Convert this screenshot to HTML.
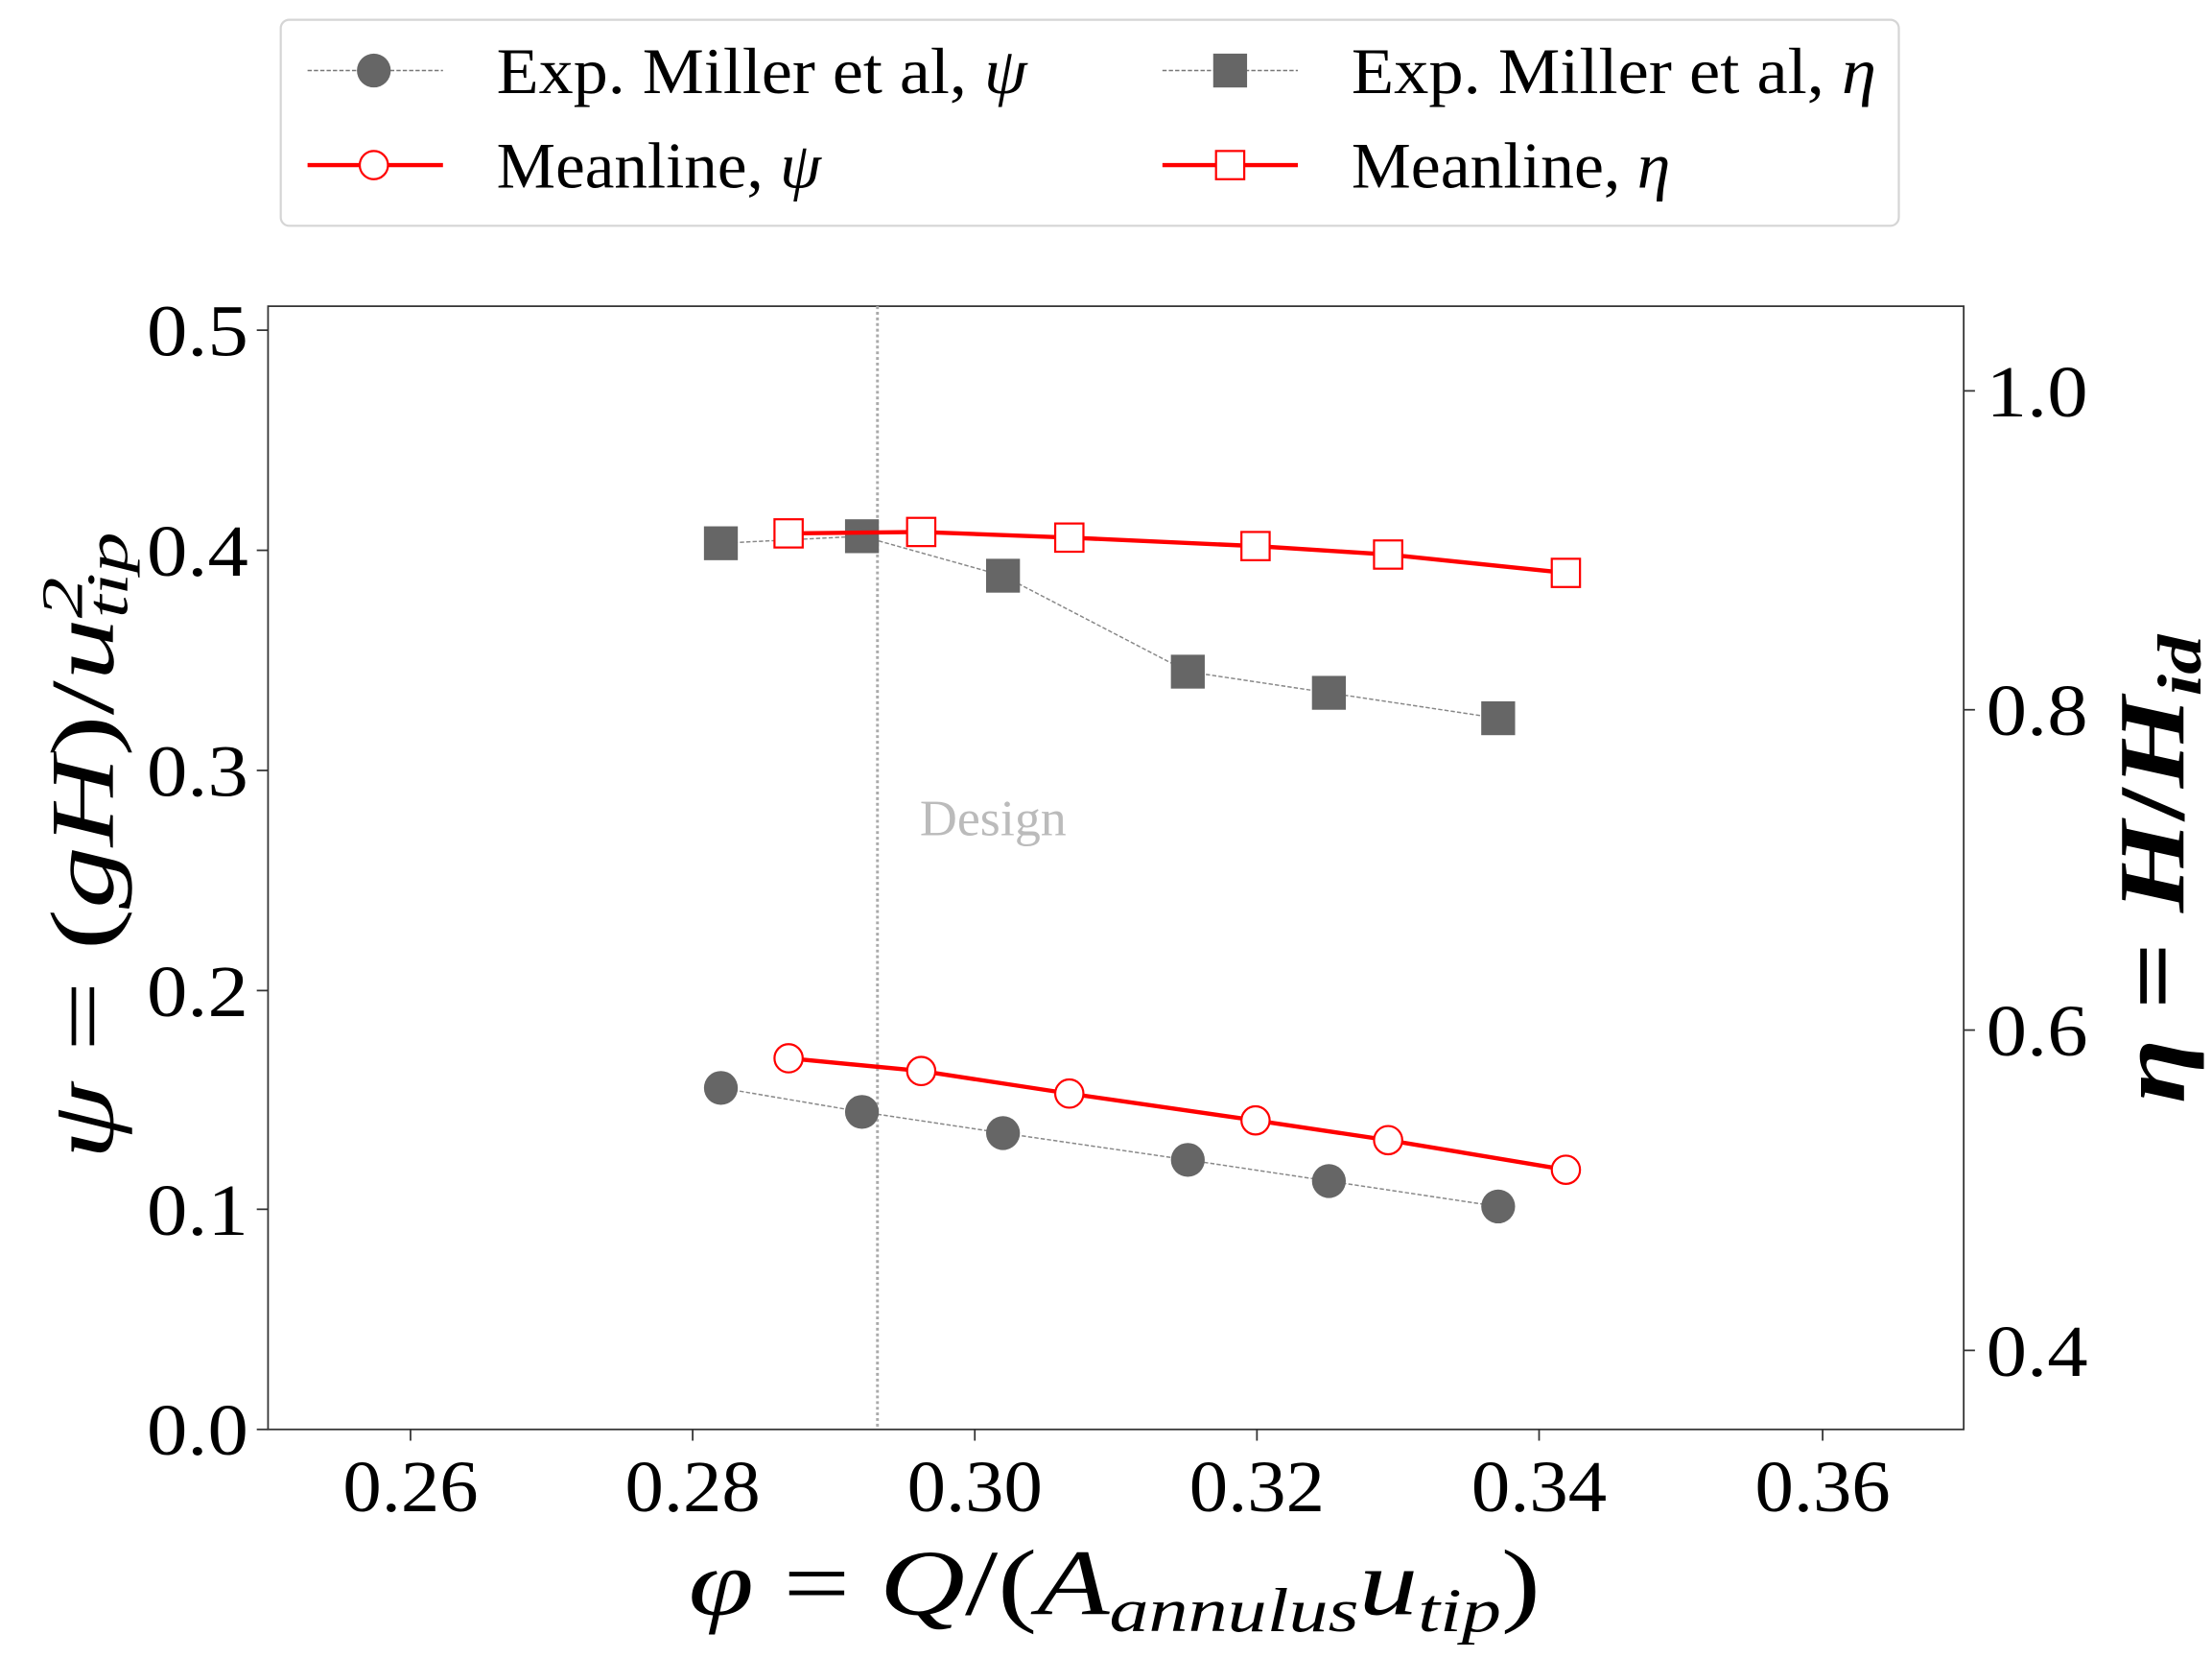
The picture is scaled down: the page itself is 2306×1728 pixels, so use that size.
<!DOCTYPE html>
<html><head><style>html,body{margin:0;padding:0;background:#fff}svg{display:block}</style></head>
<body>
<svg width="2306" height="1728" viewBox="0 0 1568 1175" xmlns="http://www.w3.org/2000/svg" font-family="Liberation Serif, serif">
<rect width="1568" height="1175" fill="#fff"/>
<!-- legend -->
<rect x="199" y="14" width="1147" height="146" rx="6" fill="#fff" stroke="#d5d5d5" stroke-width="1.5"/>
<line x1="218" y1="50" x2="314" y2="50" stroke="#777" stroke-width="1" stroke-dasharray="3,1.5"/>
<circle cx="265" cy="50" r="12" fill="#666"/>
<text x="352" y="66" font-size="46" textLength="376" lengthAdjust="spacingAndGlyphs">Exp.  Miller et al, <tspan font-style="italic">ψ</tspan></text>
<line x1="218" y1="117" x2="314" y2="117" stroke="#f00" stroke-width="3"/>
<circle cx="265" cy="117" r="10" fill="#fff" stroke="#f00" stroke-width="1.5"/>
<text x="352" y="133" font-size="46" textLength="230" lengthAdjust="spacingAndGlyphs">Meanline, <tspan font-style="italic">ψ</tspan></text>
<line x1="824" y1="50" x2="920" y2="50" stroke="#777" stroke-width="1" stroke-dasharray="3,1.5"/>
<rect x="860" y="38" width="24" height="24" fill="#666"/>
<text x="958" y="66" font-size="46" textLength="372" lengthAdjust="spacingAndGlyphs">Exp.  Miller et al, <tspan font-style="italic">η</tspan></text>
<line x1="824" y1="117" x2="920" y2="117" stroke="#f00" stroke-width="3"/>
<rect x="862" y="107" width="20" height="20" fill="#fff" stroke="#f00" stroke-width="1.5"/>
<text x="958" y="133" font-size="46" textLength="226" lengthAdjust="spacingAndGlyphs">Meanline, <tspan font-style="italic">η</tspan></text>
<!-- plot frame -->
<rect x="190" y="217" width="1202" height="796" fill="none" stroke="#333" stroke-width="1.2"/>
<g stroke="#333" stroke-width="1.2">
<line x1="182" y1="1013" x2="190" y2="1013"/><line x1="182" y1="857" x2="190" y2="857"/>
<line x1="182" y1="702" x2="190" y2="702"/><line x1="182" y1="546" x2="190" y2="546"/>
<line x1="182" y1="390" x2="190" y2="390"/><line x1="182" y1="234" x2="190" y2="234"/>
<line x1="291" y1="1013" x2="291" y2="1021"/><line x1="491" y1="1013" x2="491" y2="1021"/>
<line x1="691" y1="1013" x2="691" y2="1021"/><line x1="891" y1="1013" x2="891" y2="1021"/>
<line x1="1091" y1="1013" x2="1091" y2="1021"/><line x1="1292" y1="1013" x2="1292" y2="1021"/>
<line x1="1392" y1="277" x2="1400" y2="277"/><line x1="1392" y1="503" x2="1400" y2="503"/>
<line x1="1392" y1="730" x2="1400" y2="730"/><line x1="1392" y1="957" x2="1400" y2="957"/>
</g>
<g font-size="52">
<text x="104" y="1031" textLength="72" lengthAdjust="spacingAndGlyphs">0.0</text>
<text x="104" y="875" textLength="72" lengthAdjust="spacingAndGlyphs">0.1</text>
<text x="104" y="720" textLength="72" lengthAdjust="spacingAndGlyphs">0.2</text>
<text x="104" y="564" textLength="72" lengthAdjust="spacingAndGlyphs">0.3</text>
<text x="104" y="408" textLength="72" lengthAdjust="spacingAndGlyphs">0.4</text>
<text x="104" y="252" textLength="72" lengthAdjust="spacingAndGlyphs">0.5</text>
<text x="1408" y="295" textLength="72" lengthAdjust="spacingAndGlyphs">1.0</text>
<text x="1408" y="521" textLength="72" lengthAdjust="spacingAndGlyphs">0.8</text>
<text x="1408" y="748" textLength="72" lengthAdjust="spacingAndGlyphs">0.6</text>
<text x="1408" y="975" textLength="72" lengthAdjust="spacingAndGlyphs">0.4</text>
<text x="243" y="1071" textLength="96" lengthAdjust="spacingAndGlyphs">0.26</text>
<text x="443" y="1071" textLength="96" lengthAdjust="spacingAndGlyphs">0.28</text>
<text x="643" y="1071" textLength="96" lengthAdjust="spacingAndGlyphs">0.30</text>
<text x="843" y="1071" textLength="96" lengthAdjust="spacingAndGlyphs">0.32</text>
<text x="1043" y="1071" textLength="96" lengthAdjust="spacingAndGlyphs">0.34</text>
<text x="1244" y="1071" textLength="96" lengthAdjust="spacingAndGlyphs">0.36</text>
</g>
<!-- axis labels -->
<text x="488" y="1144" font-size="66" font-style="italic" textLength="604" lengthAdjust="spacingAndGlyphs">φ <tspan font-style="normal">= </tspan>Q<tspan font-style="normal">/(</tspan>A<tspan font-size="44" dy="12">annulus</tspan><tspan dy="-12">u</tspan><tspan font-size="44" dy="12">tip</tspan><tspan font-style="normal" dy="-12">)</tspan></text>
<text transform="translate(80,822) rotate(-90)" font-size="64" font-style="italic" textLength="445" lengthAdjust="spacingAndGlyphs">ψ <tspan font-style="normal">= (</tspan>gH<tspan font-style="normal">)/</tspan>u<tspan font-size="42" dy="-22">2</tspan><tspan font-size="42" dx="-21" dy="32">tip</tspan></text>
<text transform="translate(1548,782) rotate(-90)" font-size="66" font-style="italic" font-weight="bold" textLength="332" lengthAdjust="spacingAndGlyphs">η <tspan font-style="normal">= </tspan>H<tspan font-style="normal">/</tspan>H<tspan font-size="44" dy="12">id</tspan></text>
<!-- design line -->
<line x1="622" y1="217" x2="622" y2="1013" stroke="#aaa" stroke-width="2" stroke-dasharray="2,2"/>
<text x="652" y="592" font-size="36" fill="#bbb" textLength="104" lengthAdjust="spacingAndGlyphs">Design</text>
<!-- series -->
<polyline points="511,771 611,788 711,803 842,822 942,837 1062,855" fill="none" stroke="#888" stroke-width="1" stroke-dasharray="3,1.5"/>
<g fill="#666">
<circle cx="511" cy="771" r="12"/><circle cx="611" cy="788" r="12"/><circle cx="711" cy="803" r="12"/>
<circle cx="842" cy="822" r="12"/><circle cx="942" cy="837" r="12"/><circle cx="1062" cy="855" r="12"/>
</g>
<polyline points="511,385 611,380 711,408 842,476 942,491 1062,509" fill="none" stroke="#888" stroke-width="1" stroke-dasharray="3,1.5"/>
<g fill="#666">
<rect x="499" y="373" width="24" height="24"/><rect x="599" y="368" width="24" height="24"/><rect x="699" y="396" width="24" height="24"/>
<rect x="830" y="464" width="24" height="24"/><rect x="930" y="479" width="24" height="24"/><rect x="1050" y="497" width="24" height="24"/>
</g>
<polyline points="559,750 653,759 758,775 890,794 984,808 1110,829" fill="none" stroke="#f00" stroke-width="3"/>
<g fill="#fff" stroke="#f00" stroke-width="1.5">
<circle cx="559" cy="750" r="10"/><circle cx="653" cy="759" r="10"/><circle cx="758" cy="775" r="10"/>
<circle cx="890" cy="794" r="10"/><circle cx="984" cy="808" r="10"/><circle cx="1110" cy="829" r="10"/>
</g>
<polyline points="559,378 653,377 758,381 890,387 984,393 1110,406" fill="none" stroke="#f00" stroke-width="3"/>
<g fill="#fff" stroke="#f00" stroke-width="1.5">
<rect x="549" y="368" width="20" height="20"/><rect x="643" y="367" width="20" height="20"/><rect x="748" y="371" width="20" height="20"/>
<rect x="880" y="377" width="20" height="20"/><rect x="974" y="383" width="20" height="20"/><rect x="1100" y="396" width="20" height="20"/>
</g>
</svg>
</body></html>
